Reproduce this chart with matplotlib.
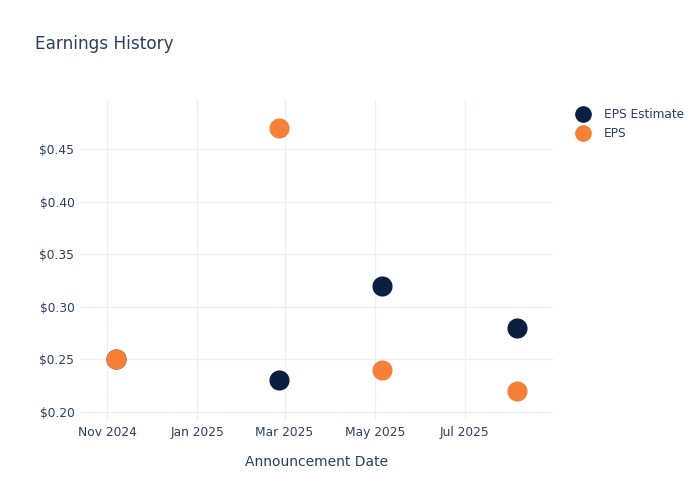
import pandas as pd
import matplotlib
matplotlib.use("Agg")
import matplotlib.pyplot as plt
import matplotlib.dates as mdates
from matplotlib.ticker import FuncFormatter
from matplotlib.lines import Line2D

# ---- data ----
dates = ["2024-11-07", "2025-02-25", "2025-05-06", "2025-08-05"]
eps_estimate = [0.25, 0.23, 0.32, 0.28]
eps_actual = [0.25, 0.47, 0.24, 0.22]
series_names = ["EPS Estimate", "EPS"]

NAVY = "#0b1f41"
ORANGE = "#f68038"
TEXT = "#2a3f5f"
GRID = "#ebf0f8"

x = pd.to_datetime(dates)

fig = plt.figure(figsize=(7, 5), dpi=100)
# plot area in pixels: left 80, right 553, top 100, bottom 420
ax = fig.add_axes([80 / 700, 80 / 500, 473 / 700, 320 / 500])

ax.scatter(x, eps_estimate, s=210, color=NAVY, zorder=3, linewidths=0)
ax.scatter(x, eps_actual, s=210, color=ORANGE, zorder=4, linewidths=0)

ax.set_xlim(pd.Timestamp("2024-10-13 12:00"), pd.Timestamp("2025-08-29 16:00"))
ax.set_ylim(0.1924, 0.4966)

ax.xaxis.set_major_locator(mdates.MonthLocator(bymonth=[1, 3, 5, 7, 9, 11]))
ax.xaxis.set_major_formatter(mdates.DateFormatter("%b %Y"))
ax.set_yticks([0.20, 0.25, 0.30, 0.35, 0.40, 0.45])
ax.yaxis.set_major_formatter(FuncFormatter(lambda v, p: f"${v:.2f}"))

ax.grid(True, color=GRID, linewidth=1)
ax.set_axisbelow(True)
for sp in ax.spines.values():
    sp.set_visible(False)
ax.tick_params(length=0, labelsize=8.8, labelcolor=TEXT)
ax.tick_params(axis="y", pad=4)
ax.tick_params(axis="x", pad=4)

ax.set_xlabel("Announcement Date", fontsize=10, color=TEXT, labelpad=12)

fig.text(35 / 700, 1 - 44 / 500, "Earnings History", fontsize=12.2,
         color=TEXT, va="center", ha="left")

handles = [
    Line2D([], [], marker="o", linestyle="", markersize=11, color=NAVY),
    Line2D([], [], marker="o", linestyle="", markersize=11, color=ORANGE),
]
fig.legend(handles, series_names, loc="upper left",
           bbox_to_anchor=(571 / 700, 1 - 103 / 500), frameon=False,
           fontsize=8.7, labelcolor=TEXT, handletextpad=1.15,
           labelspacing=0.5, borderaxespad=0, handlelength=1.2)

fig.savefig("out.png", dpi=100)
